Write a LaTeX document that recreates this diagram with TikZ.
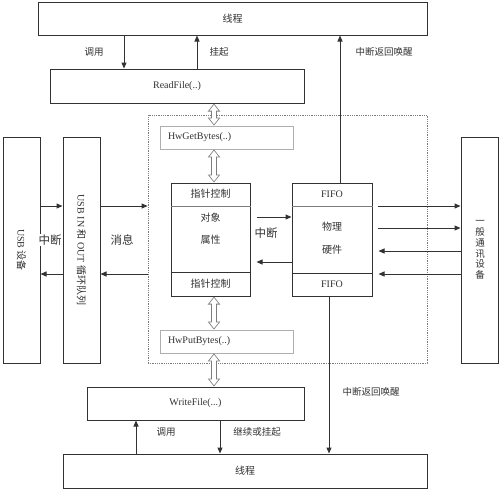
\documentclass[tikz,border=0pt]{standalone}
\usepackage{fontspec}
\setmainfont{Liberation Serif}
\newfontfamily\cjk{Noto Sans CJK SC}
\usetikzlibrary{
    arrows.meta,
    calc,
    positioning
}
\definecolor{ink}{RGB}{50,50,50}
\definecolor{muted}{RGB}{125,125,125}
\definecolor{faintline}{RGB}{175,175,175}
\newcommand{\zh}[1]{{\cjk #1}}
\tikzset{
    line cap=butt,
    box/.style={
        rectangle,
        draw=ink,
        line width=1pt,
        fill=white,
        inner sep=0pt,
        align=center,
        font=\fontsize{10}{11}\selectfont,
        text=ink
    },
    callbox/.style={
        box,
        draw=faintline,
        line width=0.8pt,
        anchor=center,
        inner xsep=8pt,
        align=left
    },
    sidebox/.style={
        box,
        minimum width=37pt,
        minimum height=226pt
    },
    frame/.style={
        rectangle,
        draw=muted,
        densely dotted,
        line width=0.8pt,
        inner sep=0pt
    },
    divider/.style={
        draw=muted,
        line width=0.7pt
    },
    flow/.style={
        -{Triangle[length=6pt,width=5pt]},
        draw=ink,
        line width=1pt
    },
    pipe/.style={
        draw=white,
        line width=4.4pt,
        {Triangle[length=5.9pt,width=8.8pt]}-{Triangle[length=5.9pt,width=8.8pt]},
        shorten <=1.3pt,
        shorten >=1.3pt,
        preaction={
            draw=muted,
            line width=6pt,
            {Triangle[length=8pt,width=12pt]}-{Triangle[length=8pt,width=12pt]},
            shorten <=0pt,
            shorten >=0pt
        }
    },
    cell/.style={
        font=\fontsize{10}{11}\selectfont,
        text=ink,
        inner sep=0pt
    },
    annot/.style={
        font=\cjk\fontsize{9.5}{10}\selectfont,
        text=ink,
        inner sep=1pt
    },
    bigannot/.style={
        annot,
        font=\cjk\fontsize{11.5}{12}\selectfont,
        fill=white
    }
}

\begin{document}
\begin{tikzpicture}[x=1pt, y=-1pt]
\useasboundingbox (0,0) rectangle (500,491);

% Threads
\node[box, minimum width=389pt, minimum height=33pt] (thrtop) at (232.5,18.5) {\zh{线程}};
\node[box, minimum width=364pt, minimum height=34pt] (thrbot) at (245,471) {\zh{线程}};

% File calls
\node[box, minimum width=254pt, minimum height=34pt] (readf) at (177,86) {ReadFile(..)};
\node[box, minimum width=217pt, minimum height=33pt] (writef) at (195.5,403.5) {WriteFile(...)};

% Driver region
\node[frame, minimum width=279pt, minimum height=248pt] (region) at (287.5,239) {};
\node[callbox, text width=117pt, minimum height=23pt] (getb) at (226.5,137.5) {HwGetBytes(..)};
\node[callbox, text width=117pt, minimum height=23pt] (putb) at (226.5,341.5) {HwPutBytes(..)};

% Object and hardware
\node[box, minimum width=79pt, minimum height=113pt] (obj) at (210.5,239.5) {};
\node[box, minimum width=80pt, minimum height=113pt] (fifo) at (332,239.5) {};
\draw[divider] (obj.west |- 0,206) -- (obj.east |- 0,206);
\draw[divider, draw=ink] (obj.west |- 0,272) -- (obj.east |- 0,272);
\draw[divider] (fifo.west |- 0,206) -- (fifo.east |- 0,206);
\draw[divider, draw=ink] (fifo.west |- 0,273) -- (fifo.east |- 0,273);

\node[cell] (ptrtop) at (210.5,194) {\zh{指针控制}};
\node[cell] (objname) at (210.5,218) {\zh{对象}};
\node[cell] (objattr) at (210.5,240) {\zh{属性}};
\node[cell] (ptrbot) at (210.5,284) {\zh{指针控制}};
\node[cell] (fifotop) at (332,194) {FIFO};
\node[cell] (hwa) at (332,227) {\zh{物理}};
\node[cell] (hwb) at (332,250) {\zh{硬件}};
\node[cell] (fifobot) at (332,284) {FIFO};

% Side devices
\node[sidebox] (usbdev) at (21.5,250) {};
\node[sidebox] (usbq) at (81.5,250) {};
\node[sidebox] (comdev) at (479.5,250) {};
\node[cell, rotate=-90] (usbdevtxt) at (usbdev) {USB \zh{设备}};
\node[cell, rotate=-90] (usbqtxt) at (usbq) {USB IN \zh{和} OUT \zh{循环队列}};
\node[cell, align=center, font=\cjk\fontsize{9.5}{10.7}\selectfont] (comdevtxt) at (480,250)
    {一\\般\\通\\讯\\设\\备};

% Reference columns and rows
\coordinate (xcall) at (124,0);
\coordinate (xhang) at (197,0);
\coordinate (xwake) at (340,0);
\coordinate (xpipe) at (214,0);
\coordinate (xwakeb) at (329,0);
\coordinate (xcallb) at (136,0);
\coordinate (xcont) at (220,0);
\coordinate (ya) at (0,206);
\coordinate (yb) at (0,274);
\coordinate (yc) at (0,217);
\coordinate (yd) at (0,262);
\coordinate (ye) at (0,228);
\coordinate (yf) at (0,251);

% Top calls
\draw[flow] (thrtop.south -| xcall) -- (readf.north -| xcall);
\draw[flow] (readf.north -| xhang) -- (thrtop.south -| xhang);
\draw[flow] (fifo.north -| xwake) -- (thrtop.south -| xwake);
\node[annot] (calla) at (94,52) {调用};
\node[annot] (hanga) at (219,52) {挂起};
\node[annot] (wakea) at (384,52) {中断返回唤醒};

% Byte pipes
\draw[pipe] (readf.south -| xpipe) -- (getb.north -| xpipe);
\draw[pipe] (getb.south -| xpipe) -- (obj.north -| xpipe);
\draw[pipe] (obj.south -| xpipe) -- (putb.north -| xpipe);
\draw[pipe] (putb.south -| xpipe) -- (writef.north -| xpipe);

% USB side
\draw[flow] (usbdev.east |- ya) -- (usbq.west |- ya);
\draw[flow] (usbq.west |- yb) -- (usbdev.east |- yb);
\draw[flow] (usbq.east |- ya) -- (region.west |- ya);
\draw[flow] (region.west |- yb) -- (usbq.east |- yb);
\node[bigannot] (irqa) at (50,240) {中断};
\node[bigannot] (msg) at (122,240) {消息};

% Object and hardware
\draw[flow, shorten <=6pt] (obj.east |- yc) -- (fifo.west |- yc);
\draw[flow, shorten >=6pt] (fifo.west |- yd) -- (obj.east |- yd);
\node[bigannot] (irqb) at (266,233) {中断};

% Hardware and device
\draw[flow, shorten <=5pt] (fifo.east |- ya) -- (comdev.west |- ya);
\draw[flow, shorten <=5pt] (fifo.east |- ye) -- (comdev.west |- ye);
\draw[flow, shorten >=6pt] (comdev.west |- yf) -- (fifo.east |- yf);
\draw[flow, shorten >=6pt] (comdev.west |- yb) -- (fifo.east |- yb);

% Bottom calls
\draw[flow] (fifo.south -| xwakeb) -- (thrbot.north -| xwakeb);
\draw[flow] (thrbot.north -| xcallb) -- (writef.south -| xcallb);
\draw[flow] (writef.south -| xcont) -- (thrbot.north -| xcont);
\node[annot] (wakeb) at (371,392) {中断返回唤醒};
\node[annot] (callb) at (166,432) {调用};
\node[annot] (cont) at (257,432) {继续或挂起};
\end{tikzpicture}
\end{document}
